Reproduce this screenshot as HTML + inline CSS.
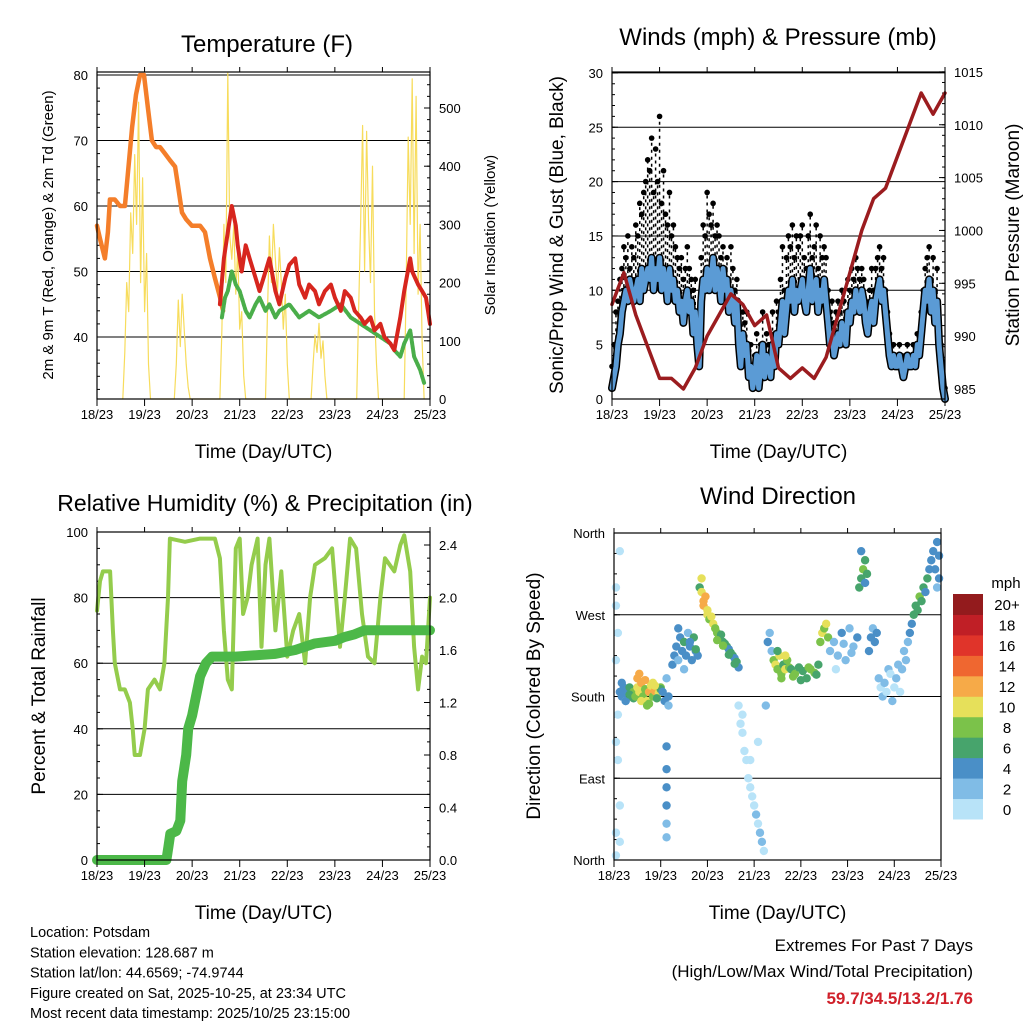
<!DOCTYPE html>
<html><head><meta charset="utf-8"><style>
html,body{margin:0;padding:0;background:#fff;}
svg{display:block;font-family:"Liberation Sans",Arial,sans-serif;}
</style></head><body>
<svg id="chart" width="1024" height="1024" viewBox="0 0 1024 1024" xmlns="http://www.w3.org/2000/svg"></svg>
<script>
// ---- data ----
const dayLabels = ['18/23','19/23','20/23','21/23','22/23','23/23','24/23','25/23'];
// temperature
const orangeHours = [0,1.5,4,5.5,6.5,9,11.6,14.1,15.6,17.7,19.7,21.7,23.7,25.7,27.7,29.8,31.8,34.3,36.8,39.4,40.9,42.9,44.9,47.9,52,54.5,57,59.5,62.1,63.6];
const orangeTemps = [57,55,52,56,61,61,60,60,65,72,77,80,80,75,70,69,69,68,67,66,63,59,58,57,57,56,52,49,46,44];
const redHours = [62,64,66,68,70,71,73,75,77,80,82,85,87,90,92,95,97,100,102,105,107,110,112,115,118,120,123,125,128,130,133,135,138,140,143,145,148,150,153,155,158,159,162,164,166,168];
const redTemps = [45,52,56,60,57,54,50,54,52,49,47,50,52,47,45,49,51,52,48,46,48,47,45,47,48,46,44,47,46,44,43,42,43,41,42,40,39,38,43,47,52,50,48,47,46,42];
const greenHours = [63,64.6,66,68,70,72,75,77,80,82,85,87,90,92,97,102,107,112,118,123,128,133,138,143,148,150,153,155,158,160,163,165];
const greenTemps = [43,46,47,50,48,47,44,43,45,46,44,45,43,44,45,43,44,43,44,45,43,42,41,40,39,38,37,39,41,37,35,33];
const solarHours = [13,14,15,16,17,18,19,20,21,22,23,24,25,26,27, 39,40,41,42,43,44,45,46,47, 62,63,64,65,66,67,68,69,70,71,72,73,74,75, 85,86,87,88,89,90,91,92,93,94,95,96,97, 108,109,110,111,112,113,114,115,116, 131,132,133,134,135,136,137,138,139,140,141,142, 155,156,157,158,159,160,161,162,163,164,165];
const solarValues = [0,80,200,150,320,250,420,300,510,200,380,150,250,60,0, 0,60,170,90,180,120,60,20,0, 0,120,300,200,560,280,240,300,180,260,120,150,40,0, 0,150,280,200,300,240,180,260,200,120,180,60,0, 0,60,110,80,130,70,100,40,0, 0,150,300,470,220,460,300,200,400,150,60,0, 0,200,450,300,550,250,520,180,300,100,0];
// winds (hourly h0..h168)
const windSustained = [1,2,3,5,6,8, 9,10,9,11,10,9, 10,11,9,12,10,11, 12,11,13,10,12,11, 13,10,12,11,9,12, 10,11,9,10,8,9, 7,9,10,8,9,6, 8,5,3,9,11,10, 12,10,11,13,10,12, 11,9,12,10,11,8, 10,9,7,9,5,3, 6,4,5,2,3,1, 2,4,1,3,5,2, 4,3,2,5,3,6, 5,7,9,6,8,10, 9,11,8,10,9,10, 11,9,8,10,12,9, 10,11,8,10,9,11, 9,7,5,6,4,5, 6,5,7,6,5,8, 7,9,8,10,9,8, 10,9,7,6,8,9, 7,9,10,11,9,10, 8,6,4,3,4,3, 3,4,3,2,3,4, 3,3,4,3,5,4, 6,8,10,9,11,8, 10,7,9,5,3,1,0];
const windGust = [3,5,8,9,11,12, 14,13,15,12,14,13, 16,15,18,17,19,20, 22,21,24,19,23,20, 26,18,21,17,16,19, 15,16,14,13,12,13, 11,12,14,12,11,10, 11,8,6,13,16,15, 19,17,16,18,15,16, 15,13,14,12,13,11, 14,12,10,11,8,6, 8,7,8,4,5,3, 4,6,3,5,8,4, 6,5,4,8,6,9, 8,11,14,10,13,15, 14,16,13,15,14,15, 16,13,12,15,17,13, 14,16,12,15,13,14, 13,10,8,9,7,8, 9,8,10,9,8,11, 10,12,11,13,12,11, 12,11,9,8,10,12, 10,12,13,14,12,13, 10,8,6,4,5,4, 4,5,4,3,4,5, 4,4,5,4,6,5, 8,10,12,13,14,11, 13,10,12,7,5,2,1];
const pressureHours = [0,6,12,18,24,30,36,42,48,54,60,66,72,78,84,90,96,102,108,114,120,126,132,138,144,150,156,162,168];
const pressureValues = [993,996,992,989,986,986,985,987,990,992,994,993,991,992,987,986,987,986,988,992,996,1000,1003,1004,1007,1010,1013,1011,1013];
// humidity & precipitation
const rhHours = [0,1.5,3,6.6,8,9,11.6,14,16.6,18,19,21.7,24,25.7,29,31.8,34,35.8,36.8,44.4,52,59.5,62,64,66,68,70,72,73.7,76,78,81,83,85,87,90,93,96,99,102,105,107.5,110,115,118.6,122.6,125,127.7,130.7,133.7,136.7,140,143,145.3,150,153,155,158,160,162,164,166,168];
const rhValues = [76,85,88,88,70,60,52,52,48,40,32,32,40,52,55,52,60,80,98,97,98,98,92,70,55,52,95,98,75,80,90,98,65,90,98,70,88,62,70,75,60,80,90,92,95,65,80,98,95,75,62,60,80,92,88,96,99,88,65,52,62,60,80];
const precipHours = [0,35,36,37,40,42,43,45,46,48,50,52,55,58,70,90,100,110,120,125,130,135,168];
const precipValues = [0,0,0.1,0.2,0.22,0.3,0.6,0.8,1.0,1.1,1.25,1.4,1.5,1.55,1.55,1.57,1.6,1.65,1.67,1.7,1.72,1.75,1.75];
// wind direction scatter: hour, direction (deg), speed (mph)
const dirHours = [1,1,2,1,2,1,2,3,1,3,1,3, 3,4,5,6,7,8,9,10,4,6,8,10, 11,12,13,14,15,16,17,18,19,20,21,22,23,24,12,14,16,18,20,22,24,13,17,21, 25,26,27,28,27,27,27,27,27,27,28, 30,31,32,33,34,35,36,37,38,39,40,41,42,43,33,36,39,42, 44,45,45,46,46,47,48,48,49,50, 51,52,53,54,55,56,57,58,59,60,61,62,63,64,53,56,59,62, 64,65,66,67,68,69,70,71,72,73,74,75,76,77,78,66,70,74, 79,80,81, 82,83,84,85,86,87,88,89,90,84,86,88, 91,93,95,97,99,101,103,105,92,96,100,104, 106,107,108,109,110, 111,113,115,117,119,121,123,125,114,118,122, 126,127,128,129,130,127,129, 131,132,133,134,135, 136,137,138,139,140,141,142,143,144,145,146,147,148,149,150, 151,152,153,154,155,156,157,158,159,160,161,162,163,164,165,166,167,167,166];
const dirValues = [300,280,250,220,160,130,110,60,30,20,5,340, 185,180,190,175,185,190,180,185,195,175,182,178, 180,190,185,195,180,188,175,185,192,180,186,178,184,190,200,175,198,172,195,178,188,205,170,192, 185,175,200,180,125,100,80,60,40,25,170, 215,225,235,220,245,230,240,225,250,235,220,245,230,225,255,210,240,232, 300,310,295,285,280,290,270,275,265,268, 260,255,250,245,248,240,238,235,232,228,225,222,218,212,242,236,226,216, 170,150,140,120,110,90,80,70,60,50,40,30,20,10,170,160,110,130, 240,250,230, 220,215,210,225,205,215,210,220,212,230,200,225, 210,205,212,208,200,210,206,215,202,198,212,204, 240,250,255,260,245, 230,240,225,250,220,255,235,245,210,238,228, 300,310,320,330,315,340,305, 230,245,255,240,250, 200,190,180,195,185,210,205,175,190,200,215,185,210,230,220, 240,250,260,270,280,275,290,285,300,295,310,320,330,340,320,300,310,335,350];
const dirSpeeds = [0,1,1,0,1,1,0,0,1,0,0,0, 4,4,5,3,5,6,7,8,4,5,6,7, 9,10,11,12,9,8,10,13,11,9,12,10,11,8,12,10,13,9,11,7,6,12,8,10, 5,4,3,4,4,4,4,4,2,2,3, 4,5,4,3,5,4,6,4,3,5,4,6,5,4,5,3,4,6, 6,10,11,12,12,13,11,10,9,11, 10,9,8,8,7,6,7,6,5,6,7,5,6,4,9,8,7,6, 1,1,0,1,1,0,1,1,0,2,1,2,2,1,2,0,1,1, 4,2,3, 9,10,8,11,9,7,10,8,9,6,8,10, 7,8,7,6,7,8,9,6,8,7,9,6, 9,10,8,11,8, 2,3,2,4,2,3,2,4,1,3,2, 6,7,8,7,6,5,4, 4,5,3,4,4, 2,1,2,2,1,2,1,2,1,2,2,1,2,3,2, 3,4,5,6,7,6,8,7,6,5,6,4,5,4,4,3,4,5,4];
const colorLabels = ['0','2','4','6','8','10','12','14','16','18','20+'];
const colorFills = ['#b8e3f8','#80bce6','#4a8fc7','#47a46c','#7bc24a','#e6e05a','#f6aa48','#ef6730','#e0342a','#c01f26','#931b1d'];

// ---- helpers ----
const NS = 'http://www.w3.org/2000/svg';
const svg = document.getElementById('chart');
function mk(tag, attrs, parent){ const e=document.createElementNS(NS,tag); for(const k in attrs) e.setAttribute(k,attrs[k]); (parent||svg).appendChild(e); return e; }
function txt(s, x, y, size, anchor, parent, extra){ const t=mk('text',Object.assign({x:x,y:y,'font-size':size,'text-anchor':anchor||'middle',fill:'#000'},extra||{}),parent); t.textContent=s; return t; }
function grp(name){ const g=mk('g',{});   return g; }

function frame(g, P, name){
  const r=mk('rect',{x:P.x0,y:P.y0,width:P.x1-P.x0,height:P.y1-P.y0,fill:'none',stroke:'#000','stroke-width':1.2},g);
   
}
function xAxis(g, P, fs){
  const ax=mk('g',{},g);  
  const step=(P.x1-P.x0)/7;
  for(let i=0;i<dayLabels.length;i++){
    const x=P.x0+i*step;
    mk('line',{x1:x,x2:x,y1:P.y1,y2:P.y1+7,stroke:'#000','stroke-width':1},ax);
    mk('line',{x1:x,x2:x,y1:P.y0,y2:P.y0-5,stroke:'#000','stroke-width':1},ax);
    const t=txt(dayLabels[i],x,P.y1+20,fs||13,'middle',ax);
     
  }
  const t=txt('Time (Day/UTC)',(P.x0+P.x1)/2,P.y1+59,19,'middle',ax);
   
}
function yTicks(g, P, vals, labels, yf, side, grid, minorVals){
  const ax=mk('g',{},g);  
  for(let i=0;i<vals.length;i++){
    const y=yf(vals[i]);
    if(grid) mk('line',{x1:P.x0,x2:P.x1,y1:y,y2:y,stroke:'#000','stroke-width':1},ax);
    if(side==='left'){ mk('line',{x1:P.x0,x2:P.x0+6,y1:y,y2:y,stroke:'#000'},ax);
      const t=txt(labels[i],P.x0-9,y+5,13,'end',ax);   }
    else { mk('line',{x1:P.x1,x2:P.x1-6,y1:y,y2:y,stroke:'#000'},ax);
      const t=txt(labels[i],P.x1+9,y+5,13,'start',ax);   }
  }
  (minorVals||[]).forEach(v=>{ const y=yf(v);
    if(side==='left') mk('line',{x1:P.x0,x2:P.x0+3,y1:y,y2:y,stroke:'#000'},ax);
    else mk('line',{x1:P.x1,x2:P.x1-3,y1:y,y2:y,stroke:'#000'},ax); });
}
function vtitle(s, x, y, size, name, g){
  const t=txt(s,x,y,size,'middle',g,{transform:'rotate(-90 '+x+' '+y+')'});
   
}
function line(g, xs, ys, xf, yf, color, w, name){
  const pts=xs.map((h,i)=>xf(h).toFixed(1)+','+yf(ys[i]).toFixed(1)).join(' ');
  const p=mk('polyline',{points:pts,fill:'none',stroke:color,'stroke-width':w,'stroke-linejoin':'round','stroke-linecap':'round'},g);
   
  return p;
}
function range(a,b,s){ const r=[]; for(let v=a;v<=b+1e-9;v+=s) r.push(+v.toFixed(3)); return r; }

// ---- Panel 1: temperature ----
(function(){
  const g=grp('temperature-panel');
  const P={x0:97,x1:430,y0:72,y1:399};
  const xf=h=>P.x0+h*(P.x1-P.x0)/168;
  const yT=v=>337-(v-40)*6.55;
  const yS=v=>399-v*0.582;
  const tt=txt('Temperature (F)',267,52,24,'middle',g);  
  yTicks(g,P,[40,50,60,70,80],['40','50','60','70','80'],yT,'left',true,range(32,80,2));
  yTicks(g,P,[0,100,200,300,400,500],['0','100','200','300','400','500'],yS,'right',false,range(0,550,20));
  line(g,solarHours,solarValues,xf,yS,'#f7dc5c',1.2,'solar-insolation-line');
  line(g,orangeHours,orangeTemps,xf,yT,'#f47e2a',4.5,'temp-9m-orange-line');
  line(g,greenHours,greenTemps,xf,yT,'#4aae4a',4,'dewpoint-green-line').setAttribute('stroke-dasharray','3 1.5');
  line(g,redHours,redTemps,xf,yT,'#d7261e',4,'temp-2m-red-line');
  frame(g,P,'temperature-plot-frame');
  xAxis(g,P);
  vtitle('2m & 9m T (Red, Orange) & 2m Td (Green)',53,235,15,'y-axis-title',g);
  vtitle('Solar Insolation (Yellow)',495,235,15,'y2-axis-title',g);
})();

// ---- Panel 2: winds & pressure ----
(function(){
  const g=grp('winds-panel');
  const P={x0:612,x1:945,y0:72,y1:399};
  const xf=h=>P.x0+h*(P.x1-P.x0)/168;
  const yW=v=>399-v*10.87;
  const yP=v=>389-(v-985)*10.57;
  const tt=txt('Winds (mph) & Pressure (mb)',778,45,24,'middle',g);  
  yTicks(g,P,[0,5,10,15,20,25,30],['0','5','10','15','20','25','30'],yW,'left',true,range(0,30,1));
  yTicks(g,P,[985,990,995,1000,1005,1010,1015],['985','990','995','1000','1005','1010','1015'],yP,'right',false,range(985,1015,1));
  const hours=windSustained.map((v,i)=>i);
  const gg=mk('g',{},g);  
  for(let i=0;i<windGust.length;i++){
    const x=xf(i);
    const b=mk('line',{x1:x,x2:x,y1:yW(windSustained[i]),y2:yW(windGust[i]),stroke:'#000','stroke-width':1.5,'stroke-dasharray':'3 4'},gg);
     
    const c=mk('circle',{cx:x,cy:yW(windGust[i]),r:2.8,fill:'#000'},gg);
     
  }
  line(g,hours,windSustained,xf,yW,'#000',8,'sustained-wind-halo');
  line(g,hours,windSustained,xf,yW,'#5b9bd5',5,'sustained-wind-line');
  line(g,pressureHours,pressureValues,xf,yP,'#9b1c1f',3.5,'pressure-line');
  frame(g,P,'winds-plot-frame');
  xAxis(g,P);
  vtitle('Sonic/Prop Wind & Gust (Blue, Black)',563,235,19,'y-axis-title',g);
  vtitle('Station Pressure (Maroon)',1019,235,19,'y2-axis-title',g);
})();

// ---- Panel 3: RH & precipitation ----
(function(){
  const g=grp('humidity-panel');
  const P={x0:97,x1:430,y0:532,y1:860};
  const xf=h=>P.x0+h*(P.x1-P.x0)/168;
  const yR=v=>860-v*3.28;
  const yPr=v=>860-v*131.25;
  const tt=txt('Relative Humidity (%) & Precipitation (in)',265,511,23,'middle',g);  
  yTicks(g,P,[0,20,40,60,80,100],['0','20','40','60','80','100'],yR,'left',true,range(0,100,5));
  yTicks(g,P,[0,0.4,0.8,1.2,1.6,2.0,2.4],['0.0','0.4','0.8','1.2','1.6','2.0','2.4'],yPr,'right',false,range(0,2.5,0.1));
  line(g,rhHours,rhValues,xf,yR,'#94cc4c',4,'relative-humidity-line');
  line(g,precipHours,precipValues,xf,yPr,'#4cb848',10,'total-precip-line');
  frame(g,P,'humidity-plot-frame');
  xAxis(g,P);
  vtitle('Percent & Total Rainfall',45,696,19,'y-axis-title',g);
})();

// ---- Panel 4: wind direction ----
(function(){
  const g=grp('wind-direction-panel');
  const P={x0:614,x1:941,y0:533,y1:860};
  const xf=h=>P.x0+h*(P.x1-P.x0)/168;
  const yD=v=>860-v*(P.y1-P.y0)/360;
  const tt=txt('Wind Direction',778,504,24,'middle',g);  
  yTicks(g,P,[0,90,180,270,360],['North','East','South','West','North'],yD,'left',true,range(0,360,22.5));
  const sg=mk('g',{},g);  
  for(let i=0;i<dirHours.length;i++){
    const bin=Math.min(10,Math.floor(dirSpeeds[i]/2));
    const c=mk('circle',{cx:xf(dirHours[i]),cy:yD(dirValues[i]),r:4.2,fill:colorFills[bin]},sg);
     
  }
  frame(g,P,'direction-plot-frame');
  xAxis(g,P);
  vtitle('Direction (Colored By Speed)',540,696,19,'y-axis-title',g);
  const lg=mk('g',{},g);  
  const mt=txt('mph',1006,588,15,'middle',lg);  
  const ch=225/colorLabels.length;
  for(let i=0;i<colorLabels.length;i++){
    const y=819-(i+1)*ch;
    const r=mk('rect',{x:953,y:y,width:30,height:ch+0.5,fill:colorFills[i]},lg);
     
    const t=txt(colorLabels[i],1007,y+ch/2+6,15,'middle',lg);  
  }
})();

// ---- footer ----
(function(){
  const g=grp('footer-info');
  const lines=['Location: Potsdam','Station elevation: 128.687 m','Station lat/lon: 44.6569; -74.9744','Figure created on Sat, 2025-10-25, at 23:34 UTC','Most recent data timestamp: 2025/10/25 23:15:00'];
  lines.forEach((s,i)=>{ const t=txt(s,30,937+i*20.3,14.5,'start',g);   });
  const a=txt('Extremes For Past 7 Days',973,951,17,'end',g);  
  const b=txt('(High/Low/Max Wind/Total Precipitation)',973,977,17,'end',g);  
  const c=txt('59.7/34.5/13.2/1.76',973,1004,17,'end',g,{fill:'#d0202a','font-weight':'bold'});  
})();
</script>
</body></html>
